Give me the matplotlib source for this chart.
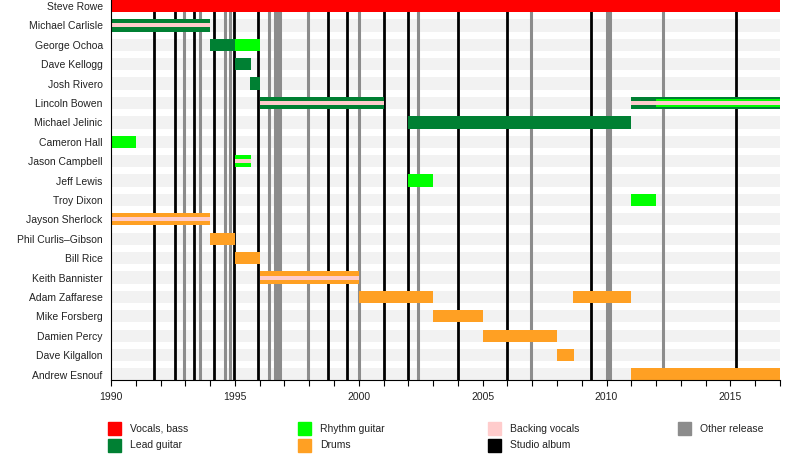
import matplotlib
matplotlib.use('Agg')
import matplotlib.pyplot as plt
from matplotlib.patches import Rectangle

plt.rcParams['font.family'] = ['Liberation Sans', 'DejaVu Sans']

members = ["Steve Rowe", "Michael Carlisle", "George Ochoa", "Dave Kellogg",
           "Josh Rivero", "Lincoln Bowen", "Michael Jelinic", "Cameron Hall",
           "Jason Campbell", "Jeff Lewis", "Troy Dixon", "Jayson Sherlock",
           "Phil Curlis\u2013Gibson", "Bill Rice", "Keith Bannister",
           "Adam Zaffarese", "Mike Forsberg", "Damien Percy", "Dave Kilgallon",
           "Andrew Esnouf"]

# (member, start, end)
vocals_bass = [("Steve Rowe", 1990, 2017)]
lead_guitar = [("Michael Carlisle", 1990, 1994), ("George Ochoa", 1994, 1995),
               ("Dave Kellogg", 1995, 1995.65), ("Josh Rivero", 1995.6, 1996),
               ("Lincoln Bowen", 1996, 2001), ("Michael Jelinic", 2002, 2011),
               ("Lincoln Bowen", 2011, 2017)]
rhythm_guitar = [("George Ochoa", 1995, 1996), ("Cameron Hall", 1990, 1991),
                 ("Jason Campbell", 1995, 1995.65), ("Jeff Lewis", 2002, 2003),
                 ("Troy Dixon", 2011, 2012)]
rhythm_secondary = [("Lincoln Bowen", 2012, 2017)]
drums = [("Jayson Sherlock", 1990, 1994), ("Phil Curlis\u2013Gibson", 1994, 1995),
         ("Bill Rice", 1995, 1996), ("Keith Bannister", 1996, 2000),
         ("Adam Zaffarese", 2000, 2003), ("Adam Zaffarese", 2008.66, 2011),
         ("Mike Forsberg", 2003, 2005), ("Damien Percy", 2005, 2008),
         ("Dave Kilgallon", 2008, 2008.7), ("Andrew Esnouf", 2011, 2017)]
backing_vocals = [("Michael Carlisle", 1990, 1994), ("Lincoln Bowen", 1996, 2001),
                  ("Lincoln Bowen", 2011, 2017), ("Jason Campbell", 1995, 1995.65),
                  ("Jayson Sherlock", 1990, 1994), ("Keith Bannister", 1996, 2000)]

studio_albums = [1991.75, 1992.6, 1993.36, 1994.15, 1994.98, 1995.95, 1998.74,
                 1999.54, 2001.0, 2001.97, 2003.99, 2006.0, 2009.36, 2015.21]
other_releases = [1992.96, 1993.6, 1994.6, 1994.8, 1996.39, 1996.63, 1996.73,
                  1996.84, 1997.97, 1999.99, 2002.41, 2006.97, 2010.0, 2010.13,
                  2012.27]

C_VOC = '#ff0000'
C_LEAD = '#008033'
C_RHY = '#00ff00'
C_BV = '#ffcccc'
C_DRUM = '#ffa023'
C_STUDIO = '#000000'
C_OTHER = '#8c8c8c'
C_TEXT = '#222222'

fig = plt.figure(figsize=(8, 4.7), dpi=100)
ax = fig.add_axes([111/800, 90/470, 669/800, 380/470])

ypos = {m: i for i, m in enumerate(members)}
H = 0.63

# background stripes
for i in range(len(members)):
    ax.barh(i, 2017 - 1990, left=1990, height=H, color='#f2f2f2', zorder=0)

for x in other_releases:
    ax.axvline(x, color=C_OTHER, lw=2.2, zorder=1)
for x in studio_albums:
    ax.axvline(x, color=C_STUDIO, lw=2.0, zorder=1)

def draw(spans, color, h, z):
    for m, s, e in spans:
        ax.barh(ypos[m], e - s, left=s, height=h, color=color, zorder=z)

draw(vocals_bass, C_VOC, H, 2)
draw(lead_guitar, C_LEAD, H, 2)
draw(rhythm_guitar, C_RHY, H, 2)
draw(drums, C_DRUM, H, 2)
draw(rhythm_secondary, C_RHY, H * 0.66, 3)
draw(backing_vocals, C_BV, H * 0.33, 4)

ax.set_xlim(1990, 2017)
ax.set_ylim(len(members) - 1 + 0.28, -0.31)
ax.set_yticks(range(len(members)))
ax.set_yticklabels(members, fontsize=7.5, color=C_TEXT)
ax.tick_params(axis='y', length=0, pad=6)
ax.set_xticks(range(1990, 2016, 5))
ax.set_xticks(range(1990, 2018), minor=True)
ax.tick_params(axis='x', which='both', length=4, width=0.8, labelsize=7.5,
               pad=5, labelcolor=C_TEXT)
for s in ['top', 'right']:
    ax.spines[s].set_visible(False)
for s in ['left', 'bottom']:
    ax.spines[s].set_linewidth(0.8)
    ax.spines[s].set_zorder(5)

legend = [("Vocals, bass", C_VOC, 108, 422), ("Lead guitar", C_LEAD, 108, 439),
          ("Rhythm guitar", C_RHY, 298, 422), ("Drums", C_DRUM, 298, 439),
          ("Backing vocals", C_BV, 488, 422), ("Studio album", C_STUDIO, 488, 439),
          ("Other release", C_OTHER, 678, 422)]
for label, col, px, py in legend:
    fig.patches.append(Rectangle((px/800, 1 - (py + 13)/470), 13/800, 13/470,
                                 transform=fig.transFigure, color=col))
    fig.text((px + 22)/800, 1 - (py + 6.5)/470, label, fontsize=7.5,
             va='center', ha='left', color=C_TEXT)

fig.savefig('out.png', dpi=100)
